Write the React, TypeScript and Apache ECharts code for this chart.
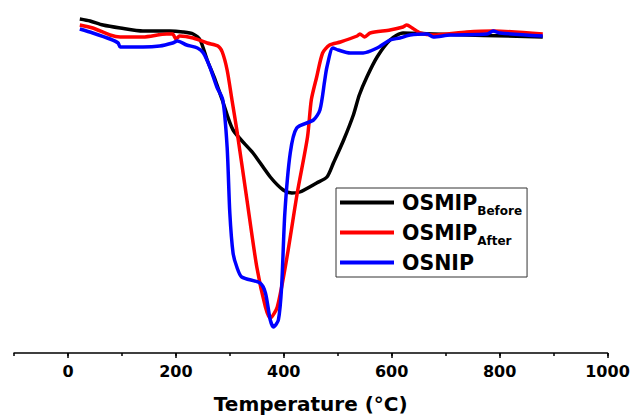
import React, { useEffect, useRef } from "react";
import * as echarts from "echarts";

// Temperature (°C) ticks
const xMajorTicks = [0, 200, 400, 600, 800, 1000];

// [temperature °C, relative DTG signal (height above baseline)]
const osmipBefore: [number, number][] = [
  [22, 334], [41, 332], [65, 328], [97, 325], [139, 322], [189, 322], [213, 321], [232, 319],
  [245, 313], [258, 293], [273, 273], [286, 253], [306, 223], [343, 200], [375, 176], [399, 163],
  [415, 160], [430, 161], [461, 170], [480, 176], [492, 190], [511, 213], [529, 238], [540, 258],
  [554, 276], [573, 296], [597, 313], [621, 320], [677, 319], [880, 316],
];

const osmipAfter: [number, number][] = [
  [22, 328], [46, 325], [78, 318], [97, 316], [139, 316], [183, 319], [194, 319], [200, 314],
  [207, 317], [232, 315], [258, 310], [278, 307], [286, 301], [295, 283], [304, 253], [313, 223],
  [331, 156], [350, 86], [366, 46], [375, 35], [388, 46], [406, 96], [425, 160], [444, 216],
  [451, 253], [461, 276], [472, 300], [485, 308], [505, 311], [536, 317], [541, 319], [550, 316],
  [560, 320], [597, 323], [621, 326], [628, 328], [638, 325], [653, 320], [677, 318], [739, 321],
  [788, 322], [880, 319],
];

const osnip: [number, number][] = [
  [22, 324], [46, 320], [78, 314], [93, 310], [97, 306], [139, 306], [170, 307], [194, 310],
  [203, 312], [220, 308], [240, 305], [251, 300], [263, 286], [276, 266], [287, 253], [295, 206],
  [300, 140], [306, 100], [313, 86], [322, 76], [356, 70], [366, 60], [375, 33], [381, 26],
  [390, 33], [396, 66], [402, 140], [412, 200], [424, 225], [455, 233], [467, 243], [476, 273],
  [480, 286], [491, 305], [501, 303], [523, 300], [547, 300], [573, 305], [597, 313], [615, 315],
  [634, 318], [666, 319], [677, 316], [708, 318], [777, 319], [788, 322], [801, 320], [880, 317],
];

const seriesNames = ["OSMIP Before", "OSMIP After", "OSNIP"];
const seriesColors = ["#000000", "#ff0000", "#0000ff"];

export default function App() {
  const ref = useRef<HTMLDivElement>(null);

  useEffect(() => {
    const chart = echarts.init(ref.current!, null, { renderer: "svg" });
    const font = "DejaVu Sans";
    const axisStroke = { color: "#000", width: 1.5 };
    const datasets = [osmipBefore, osmipAfter, osnip];

    chart.setOption({
      animation: false,
      grid: { left: 14, right: 22.5, top: 13, bottom: 62, outerBoundsMode: "none", containLabel: false },
      xAxis: [
        {
          type: "value",
          min: -100,
          max: 1000,
          interval: 100,
          position: "bottom",
          axisLine: { onZero: false, lineStyle: axisStroke },
          axisTick: { length: 3, lineStyle: axisStroke },
          axisLabel: {
            customValues: xMajorTicks,
            formatter: (v: number) => String(v),
            margin: 10,
            color: "#000",
            fontFamily: font,
            fontWeight: "bold",
            fontSize: 16,
          },
          splitLine: { show: false },
          name: "Temperature (°C)",
          nameLocation: "middle",
          nameGap: 41,
          nameTextStyle: { color: "#000", fontFamily: font, fontWeight: "bold", fontSize: 20 },
        },
        {
          type: "value",
          min: -100,
          max: 1000,
          position: "bottom",
          offset: 0,
          axisLine: { show: false, onZero: false },
          axisTick: { customValues: xMajorTicks, length: 5, lineStyle: axisStroke },
          axisLabel: { show: false },
          splitLine: { show: false },
        },
      ],
      yAxis: { type: "value", min: 0, max: 340, show: false },
      legend: {
        orient: "vertical",
        left: 336,
        top: 188,
        padding: [4, 5, 0, 4],
        itemGap: 5,
        itemWidth: 54,
        itemHeight: 4,
        icon: "rect",
        itemStyle: { borderWidth: 0 },
        borderColor: "#333",
        borderWidth: 1,
        data: seriesNames,
        formatter: (name: string) => {
          if (name === "OSMIP Before") return "{a|OSMIP}{b|Before}";
          if (name === "OSMIP After") return "{a|OSMIP}{b|After}";
          return "{a|OSNIP}{b| }";
        },
        textStyle: {
          rich: {
            a: {
              fontFamily: font,
              fontWeight: "bold",
              fontSize: 20.5,
              color: "#000",
              lineHeight: 29,
              verticalAlign: "middle",
              padding: [0, 0, 0, 3],
            },
            b: {
              fontFamily: font,
              fontWeight: "bold",
              fontSize: 12,
              color: "#000",
              lineHeight: 10,
              verticalAlign: "bottom",
            },
          },
        },
      },
      series: datasets.map((d, i) => ({
        name: seriesNames[i],
        type: "line",
        data: d,
        xAxisIndex: 0,
        showSymbol: false,
        symbol: "none",
        smooth: 0.25,
        color: seriesColors[i],
        lineStyle: { width: 3.5, color: seriesColors[i] },
        z: 2 + i,
      })),
    });

    return () => chart.dispose();
  }, []);

  return (
    <div
      ref={ref}
      style={{ position: "absolute", left: 0, top: 0, width: 630, height: 415 }}
    />
  );
}
